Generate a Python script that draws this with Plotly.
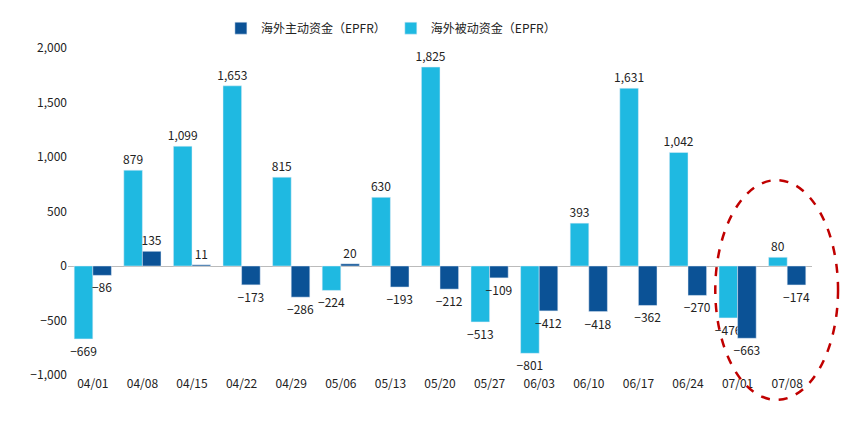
import plotly.graph_objects as go

dates = ["04/01","04/08","04/15","04/22","04/29","05/06","05/13","05/20","05/27","06/03","06/10","06/17","06/24","07/01","07/08"]
passive = [-669, 879, 1099, 1653, 815, -224, 630, 1825, -513, -801, 393, 1631, 1042, -476, 80]
active = [-86, 135, 11, -173, -286, 20, -193, -212, -109, -412, -418, -362, -270, -663, -174]

def fmt(v):
    s = f"{abs(v):,}"
    return ("−" + s) if v < 0 else s

fig = go.Figure()
fig.add_bar(x=dates, y=passive, name="海外被动资金（EPFR）", marker_color="#1FB9E1",
            text=[fmt(v) for v in passive], textposition="outside", cliponaxis=False,
            textfont=dict(size=12, color="#222"))
fig.add_bar(x=dates, y=active, name="海外主动资金（EPFR）", marker_color="#0B5296",
            text=[fmt(v) for v in active], textposition="outside", cliponaxis=False,
            textfont=dict(size=12, color="#222"))
fig.update_layout(
    width=860, height=429, plot_bgcolor="white", paper_bgcolor="white",
    margin=dict(l=60, r=56, t=40, b=62, autoexpand=False),
    barmode="group", bargap=0.25, bargroupgap=0,
    font=dict(family="Noto Sans CJK SC, sans-serif", size=12, color="#222"),
    legend=dict(orientation="h", x=0.434, xanchor="center", yref="container", y=0.953, yanchor="middle",
                traceorder="reversed", font=dict(size=12)),
    xaxis=dict(showgrid=False, ticks="", tickfont=dict(size=12)),
    yaxis=dict(range=[-1000, 2000], dtick=500, tickformat=",", showgrid=False,
               zeroline=True, zerolinecolor="#bbb", zerolinewidth=1, tickfont=dict(size=12)),
    uniformtext=dict(mode="show", minsize=12),
)
fig.add_shape(type="circle", xref="paper", yref="paper", x0=0.870, x1=1.035, y0=-0.076, y1=0.596,
              line=dict(color="#C00000", width=2.5, dash="dash"))
fig.write_html("out.html")
